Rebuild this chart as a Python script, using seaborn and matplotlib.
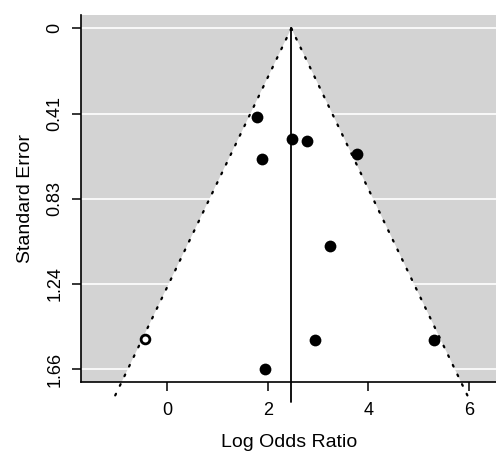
import numpy as np
import pandas as pd
import matplotlib
matplotlib.use("Agg")
import matplotlib.pyplot as plt
import seaborn as sns

# observed studies
log_or = [1.78, 2.47, 2.78, 1.88, 3.77, 3.24, 2.94, 5.30, 1.94]
std_err = [0.431, 0.541, 0.549, 0.638, 0.614, 1.061, 1.519, 1.516, 1.660]

# imputed (trim-and-fill) study
fill_or = [-0.44]
fill_se = [1.513]

estimate = 2.466
y_ticks = [0, 0.415, 0.83, 1.245, 1.66]
y_tick_labels = ["0", "0.41", "0.83", "1.24", "1.66"]
x_ticks = [0, 2, 4, 6]

sns.set_theme(style="white")
plt.rcParams["font.family"] = ["Liberation Sans", "DejaVu Sans"]

df = pd.DataFrame({"yi": log_or, "sei": std_err})
df_fill = pd.DataFrame({"yi": fill_or, "sei": fill_se})

fig = plt.figure(figsize=(4.96, 4.53), dpi=100)
ax = fig.add_axes([0.1633, 0.1567, 0.8387, 0.8102])

xlim = (-1.72, 6.56)
ylim = (1.723, -0.065)
ax.set_xlim(*xlim)
ax.set_ylim(*ylim)
ax.set_facecolor("#d3d3d3")

# white gridlines at tick positions
for yt in y_ticks:
    ax.axhline(yt, color="white", lw=1.2, zorder=1)

# pseudo confidence region
se_end = 1.82
tri_x = [estimate - 1.96 * se_end, estimate, estimate + 1.96 * se_end]
tri_y = [se_end, 0, se_end]
ax.fill(tri_x, tri_y, color="white", zorder=2, lw=0)

# dotted funnel limits and reference line (run past the axis like R)
ax.plot([estimate, estimate - 1.96 * se_end], [0, se_end], color="black",
        lw=1.6, linestyle=(0, (0.8, 4.0)), dash_capstyle="round",
        clip_on=False, zorder=3)
ax.plot([estimate, estimate + 1.96 * se_end], [0, se_end], color="black",
        lw=1.6, linestyle=(0, (0.8, 4.0)), dash_capstyle="round",
        clip_on=False, zorder=3)
ax.plot([estimate, estimate], [0, se_end], color="black", lw=1.3,
        clip_on=False, zorder=3)

sns.scatterplot(data=df, x="yi", y="sei", ax=ax, color="black", s=72,
                edgecolor="black", linewidth=0, zorder=4, clip_on=False,
                legend=False)
sns.scatterplot(data=df_fill, x="yi", y="sei", ax=ax, facecolor="white",
                edgecolor="black", s=40, linewidth=2.0, zorder=4,
                clip_on=False, legend=False)

ax.set_yticks(y_ticks)
ax.set_yticklabels(y_tick_labels, rotation=90, va="center", fontsize=13)
ax.set_xticks(x_ticks)
ax.set_xticklabels([str(t) for t in x_ticks], fontsize=13)
ax.tick_params(axis="both", which="both", direction="out", length=6.5,
               width=1.1, color="black", labelcolor="black")
ax.tick_params(axis="y", pad=6, left=True)
ax.tick_params(axis="x", pad=8, bottom=True)

for side in ["top", "right"]:
    ax.spines[side].set_visible(False)
for side in ["left", "bottom"]:
    ax.spines[side].set_color("black")
    ax.spines[side].set_linewidth(1.2)

ax.set_xlabel("Log Odds Ratio", fontsize=14, labelpad=11, color="black")
ax.set_ylabel("Standard Error", fontsize=14, labelpad=9, color="black")

fig.savefig("out.png", dpi=100)
